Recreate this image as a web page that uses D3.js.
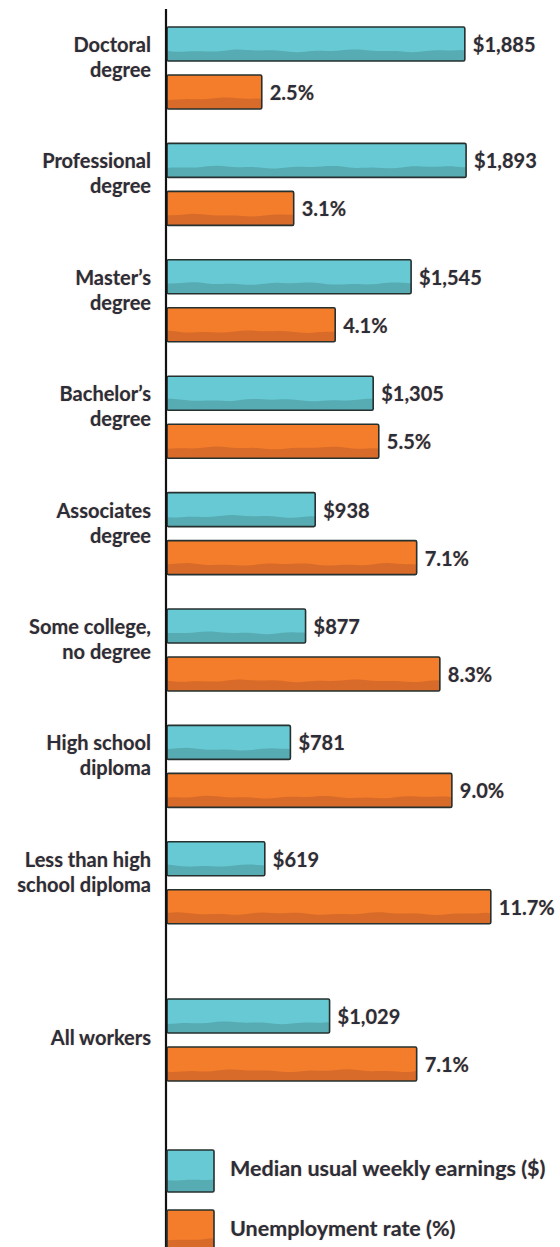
<!DOCTYPE html>
<html><head><meta charset="utf-8">
<script src="https://cdn.jsdelivr.net/npm/d3@7/dist/d3.min.js"></script>
<style>
html,body{margin:0;padding:0;background:#fff;}
svg{display:block;}
text{font-family:Lato,"Open Sans",sans-serif;font-weight:700;fill:#2a2e3c;}
.lbl{text-shadow:0 0 1.2px rgba(190,120,60,0.55);}
</style></head>
<body>
<script>
const categories = [
  ["Doctoral","degree"],
  ["Professional","degree"],
  ["Master’s","degree"],
  ["Bachelor’s","degree"],
  ["Associates","degree"],
  ["Some college,","no degree"],
  ["High school","diploma"],
  ["Less than high","school diploma"],
  ["All workers"]
];
const earnings = [1885, 1893, 1545, 1305, 938, 877, 781, 619, 1029];
const unemployment = [2.5, 3.1, 4.1, 5.5, 7.1, 8.3, 9.0, 11.7, 7.1];
const earningsLabels = ["$1,885","$1,893","$1,545","$1,305","$938","$877","$781","$619","$1,029"];
const unemploymentLabels = ["2.5%","3.1%","4.1%","5.5%","7.1%","8.3%","9.0%","11.7%","7.1%"];
const legendLabels = ["Median usual weekly earnings ($)","Unemployment rate (%)"];
const groupSlots = [0,1,2,3,4,5,6,7,8.35];

const W = 560, H = 1247;
const x0 = 167;
const tealFill = "#67c9d3", tealDark = "#57abb3";
const orangeFill = "#f47d2b", orangeDark = "#d86b29";
const outline = "#25302f";

const svg = d3.select("body").append("svg").attr("width", W).attr("height", H);

const y = d3.scaleLinear().domain([0,1]).range([27, 143.4]);
const xE = d3.scaleLinear().domain([0,2000]).range([0, 316]);
const xU = d3.scaleLog().domain([1.32, 20]).range([0, 148.4*Math.log(20/1.32)]);
const barH = 34, offU = 48;

function bar(g, x, top, w, h, fill, dark, seed){
  g.append("rect").attr("x", x).attr("y", top).attr("width", w).attr("height", h)
    .attr("fill", fill);
  const bt = top + h*0.7;
  const pts = [];
  for (let px = 0; px <= w; px += 5) {
    pts.push([x+px, bt + 0.9*Math.sin(px/17 + seed) + 0.5*Math.sin(px/6.3 + seed*2)]);
  }
  pts.push([x+w, bt]);
  g.append("path")
    .attr("d", d3.line()(pts) + `L${x+w},${top+h}L${x},${top+h}Z`)
    .attr("fill", dark);
  g.append("rect").attr("x", x).attr("y", top).attr("width", w).attr("height", h)
    .attr("fill", "none").attr("stroke", outline).attr("stroke-width", 1.6).attr("rx", 1.5);
}

const gBars = svg.append("g");
categories.forEach((c, i) => {
  const top = y(groupSlots[i]);
  const wE = xE(earnings[i]);
  const wU = xU(unemployment[i]);
  bar(gBars, x0, top, wE, barH, tealFill, tealDark, i*1.7);
  bar(gBars, x0, top+offU, wU, barH, orangeFill, orangeDark, i*2.3+1);
  gBars.append("text").attr("class","lbl").attr("x", x0 + wE + 8).attr("y", top + barH/2 + 8)
    .attr("font-size", 20).text(earningsLabels[i]);
  gBars.append("text").attr("class","lbl").attr("x", x0 + wU + 8).attr("y", top + offU + barH/2 + 8)
    .attr("font-size", 20).text(unemploymentLabels[i]);
  const t = gBars.append("text").attr("class","lbl").attr("text-anchor","end").attr("font-size", 20);
  if (c.length === 2) {
    t.append("tspan").attr("x", 151).attr("y", top + 25).text(c[0]);
    t.append("tspan").attr("x", 151).attr("y", top + 50).text(c[1]);
  } else {
    t.append("tspan").attr("x", 151).attr("y", top + 46).text(c[0]);
  }
});

svg.append("path").attr("d", `M${x0-1},9 L${x0-1},${H}`)
  .attr("stroke", "#111").attr("stroke-width", 2.2).attr("fill","none");

const legTop = [1150, 1210];
const legColors = [[tealFill, tealDark],[orangeFill, orangeDark]];
legendLabels.forEach((l, i) => {
  bar(svg, x0, legTop[i], 47, 42, legColors[i][0], legColors[i][1], i+0.5);
  svg.append("text").attr("class","lbl").attr("x", 230).attr("y", legTop[i] + 26)
    .attr("font-size", 21.5).text(l);
});
</script>
</body></html>
